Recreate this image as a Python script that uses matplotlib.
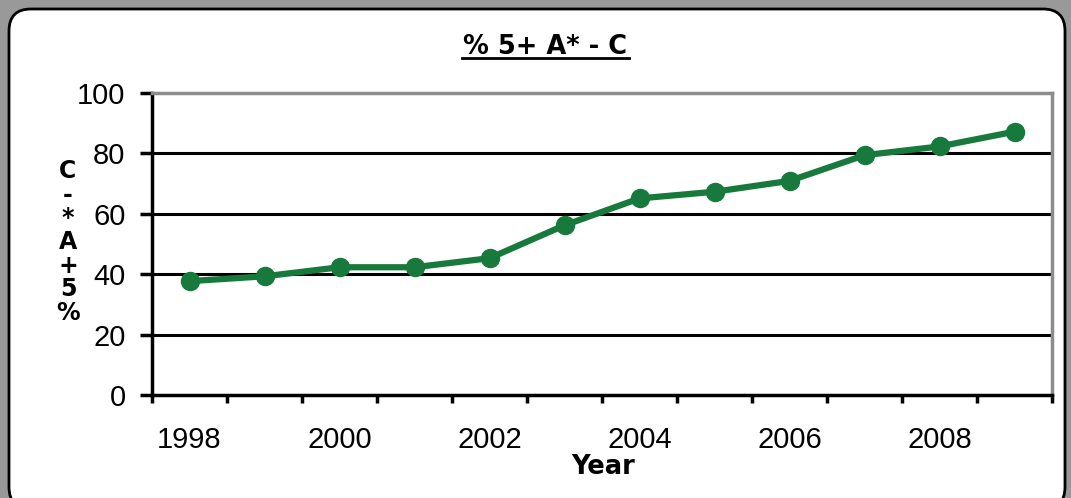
import matplotlib
matplotlib.use('Agg')
import matplotlib.pyplot as plt
from matplotlib.patches import FancyBboxPatch
from matplotlib.lines import Line2D

years = [1998, 1999, 2000, 2001, 2002, 2003, 2004, 2005, 2006, 2007, 2008, 2009]
pct = [37.7, 39.3, 42.3, 42.3, 45.3, 56.2, 65.1, 67.3, 70.9, 79.4, 82.3, 87.2]
label_years = [1998, 2000, 2002, 2004, 2006, 2008]

W, H = 1071, 498
fig = plt.figure(figsize=(W / 100, H / 100), dpi=100)
fig.patch.set_facecolor('#999999')

# background axes in pixel units for the white rounded panel
bg = fig.add_axes([0, 0, 1, 1], zorder=-1)
bg.set_xlim(0, W)
bg.set_ylim(H, 0)
bg.axis('off')
bg.add_patch(FancyBboxPatch((9, 9), 1056, 500,
                            boxstyle='round,pad=0,rounding_size=22',
                            facecolor='white', edgecolor='black', linewidth=2))

ax = fig.add_axes([152 / W, (H - 395) / H, 900 / W, 302 / H])
ax.set_facecolor('white')

x = list(range(len(years)))
ax.plot(x, pct, color='#177A3C', linewidth=4.5, marker='o', markersize=13,
        markeredgecolor='#177A3C', zorder=3)

ax.set_xlim(-0.5, len(years) - 0.5)
ax.set_ylim(0, 100)
ax.set_yticks([0, 20, 40, 60, 80, 100])
for v in [20, 40, 60, 80]:
    ax.axhline(v, color='black', linewidth=2.2, zorder=1)

ax.set_xticks([i - 0.5 for i in range(len(years) + 1)])
ax.set_xticklabels([])
ax.set_xticks([years.index(y) for y in label_years], minor=True)
ax.set_xticklabels([str(y) for y in label_years], minor=True)
ax.tick_params(axis='x', which='major', length=6, width=2.5, direction='out')
ax.tick_params(axis='x', which='minor', length=0, pad=22)
ax.tick_params(axis='y', length=9, width=2.5, direction='out', pad=10)
for lab in ax.get_xticklabels(minor=True) + ax.get_yticklabels():
    lab.set_fontfamily('Liberation Sans')
    lab.set_fontsize(21)

for s in ['left', 'bottom']:
    ax.spines[s].set_linewidth(2.5)
    ax.spines[s].set_color('black')
for s in ['top', 'right']:
    ax.spines[s].set_linewidth(2.5)
    ax.spines[s].set_color('#8c8c8c')

# title with underline
fig.text(545 / W, 1 - 47 / H, '% 5+ A* - C', ha='center', va='center',
         fontsize=18.5, fontweight='bold', family='DejaVu Sans')
fig.add_artist(Line2D([462 / W, 629 / W], [1 - 58.5 / H, 1 - 58.5 / H],
                      color='black', linewidth=2, transform=fig.transFigure))

fig.text(603 / W, 1 - 467 / H, 'Year', ha='center', va='center',
         fontsize=18.5, fontweight='bold', family='DejaVu Sans')

# stacked y label
fig.text(68 / W, 1 - 242 / H, 'C\n-\n*\nA\n+\n5\n%', ha='center', va='center',
         fontsize=17, fontweight='bold', family='DejaVu Sans', linespacing=0.98)

fig.savefig('out.png', dpi=100, facecolor=fig.get_facecolor())
